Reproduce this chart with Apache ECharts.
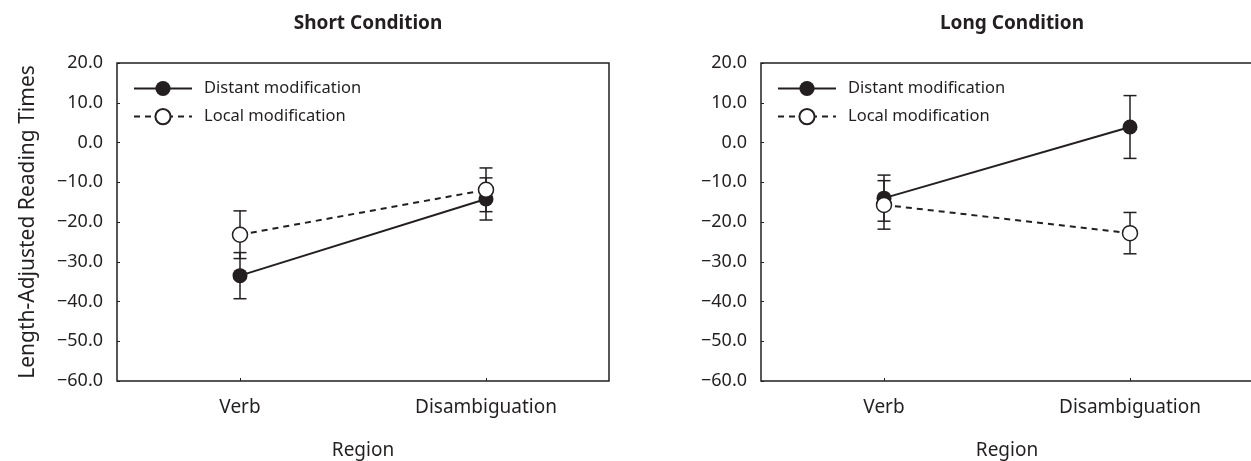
<!DOCTYPE html>
<html>
<head>
<meta charset="utf-8">
<script src="https://cdn.jsdelivr.net/npm/echarts@6/dist/echarts.min.js"></script>
<style>
html,body{margin:0;padding:0;background:#fff;}
#chart{width:1251px;height:461px;}
</style>
</head>
<body>
<div id="chart"></div>
<script>
// ---- data ----
const categories = ['Verb', 'Disambiguation'];
const panelTitles = ['Short Condition', 'Long Condition'];
const seriesNames = ['Distant modification', 'Local modification'];
const yTickLabels = ['\u221260.0', '\u221250.0', '\u221240.0', '\u221230.0', '\u221220.0', '\u221210.0', '0.0', '10.0', '20.0'];
const yTickValues = [-60, -50, -40, -30, -20, -10, 0, 10, 20];

const shortDistant = [-33.5, -14.2];
const shortDistantErr = [5.8, 5.3];
const shortLocal = [-23.2, -11.9];
const shortLocalErr = [6.0, 5.5];

const longDistant = [-14.0, 3.9];
const longDistantErr = [5.8, 7.9];
const longLocal = [-15.7, -22.8];
const longLocalErr = [6.1, 5.2];

// ---- chart ----
const INK = '#231f20';
const FONT = 'Noto Sans';

function errData(vals, errs) {
  return vals.map((v, i) => [i, v - errs[i], v + errs[i]]);
}

function errSeries(name, idx, vals, errs) {
  return {
    type: 'custom',
    name: name + ' err',
    xAxisIndex: idx, yAxisIndex: idx,
    z: 1,
    silent: true,
    data: errData(vals, errs),
    renderItem: function (params, api) {
      const x = api.value(0);
      const lo = api.coord([x, api.value(1)]);
      const hi = api.coord([x, api.value(2)]);
      const hw = 6.5;
      const st = { stroke: INK, lineWidth: 1.5 };
      return {
        type: 'group',
        children: [
          { type: 'line', shape: { x1: lo[0], y1: lo[1], x2: hi[0], y2: hi[1] }, style: st },
          { type: 'line', shape: { x1: lo[0] - hw, y1: lo[1], x2: lo[0] + hw, y2: lo[1] }, style: st },
          { type: 'line', shape: { x1: hi[0] - hw, y1: hi[1], x2: hi[0] + hw, y2: hi[1] }, style: st }
        ]
      };
    }
  };
}

function lineSeries(name, idx, vals, dashed) {
  return {
    type: 'line',
    name: name,
    xAxisIndex: idx, yAxisIndex: idx,
    z: 3,
    data: vals,
    symbol: 'circle',
    symbolSize: 15,
    showAllSymbol: true,
    lineStyle: { color: INK, width: 2, type: dashed ? [6, 5] : 'solid' },
    itemStyle: dashed
      ? { color: '#ffffff', borderColor: INK, borderWidth: 1.5 }
      : { color: INK, borderColor: INK, borderWidth: 0 },
    emphasis: { disabled: true },
    animation: false
  };
}

const gridLefts = [117, 761];

const option = {
  animation: false,
  backgroundColor: '#ffffff',
  textStyle: { fontFamily: FONT, color: INK },
  title: panelTitles.map((t, i) => ({
    text: t,
    left: gridLefts[i] + 246,
    top: 9,
    textAlign: 'center',
    textStyle: { fontFamily: FONT, fontWeight: 'bold', fontSize: 19, color: INK }
  })),
  legend: gridLefts.map((gl) => ({
    data: seriesNames,
    orient: 'vertical',
    left: gl + 16,
    top: 80,
    padding: 0,
    itemWidth: 58,
    itemHeight: 19,
    itemGap: 11,
    selectedMode: false,
    textStyle: { fontFamily: FONT, fontSize: 16.5, color: INK, padding: [0, 0, 0, 7] }
  })),
  grid: gridLefts.map((gl) => ({
    left: gl, top: 63, width: 492, height: 318,
    containLabel: false,
    outerBoundsMode: 'none',
    show: true, borderColor: INK, borderWidth: 1.5, backgroundColor: 'transparent'
  })),
  xAxis: gridLefts.map((gl, i) => ({
    type: 'category',
    gridIndex: i,
    data: categories,
    boundaryGap: true,
    name: 'Region',
    nameLocation: 'middle',
    nameGap: 60,
    nameTextStyle: { fontFamily: FONT, fontSize: 19, color: INK },
    axisLine: { show: false, onZero: false },
    axisTick: { show: true, inside: true, length: 3, alignWithLabel: true, lineStyle: { color: INK, width: 1 } },
    axisLabel: { margin: 17, fontFamily: FONT, fontSize: 19, color: INK },
    splitLine: { show: false }
  })),
  yAxis: gridLefts.map((gl, i) => ({
    type: 'value',
    gridIndex: i,
    min: -60, max: 20, interval: 10,
    name: i === 0 ? 'Length-Adjusted Reading Times' : '',
    nameLocation: 'middle',
    nameGap: 78,
    nameTextStyle: { fontFamily: FONT, fontSize: 21, color: INK },
    axisLine: { show: false, onZero: false },
    axisTick: { show: true, inside: true, length: 3, lineStyle: { color: INK, width: 1 } },
    axisLabel: {
      margin: 14, fontFamily: FONT, fontSize: 18, color: INK,
      formatter: function (v) { const k = yTickValues.indexOf(v); return k >= 0 ? yTickLabels[k] : ''; }
    },
    splitLine: { show: false }
  })),
  series: [
    errSeries(seriesNames[0], 0, shortDistant, shortDistantErr),
    errSeries(seriesNames[1], 0, shortLocal, shortLocalErr),
    errSeries(seriesNames[0], 1, longDistant, longDistantErr),
    errSeries(seriesNames[1], 1, longLocal, longLocalErr),
    lineSeries(seriesNames[0], 0, shortDistant, false),
    lineSeries(seriesNames[1], 0, shortLocal, true),
    lineSeries(seriesNames[0], 1, longDistant, false),
    lineSeries(seriesNames[1], 1, longLocal, true)
  ]
};

const chart = echarts.init(document.getElementById('chart'), null, { renderer: 'canvas' });
chart.setOption(option);
</script>
</body>
</html>
